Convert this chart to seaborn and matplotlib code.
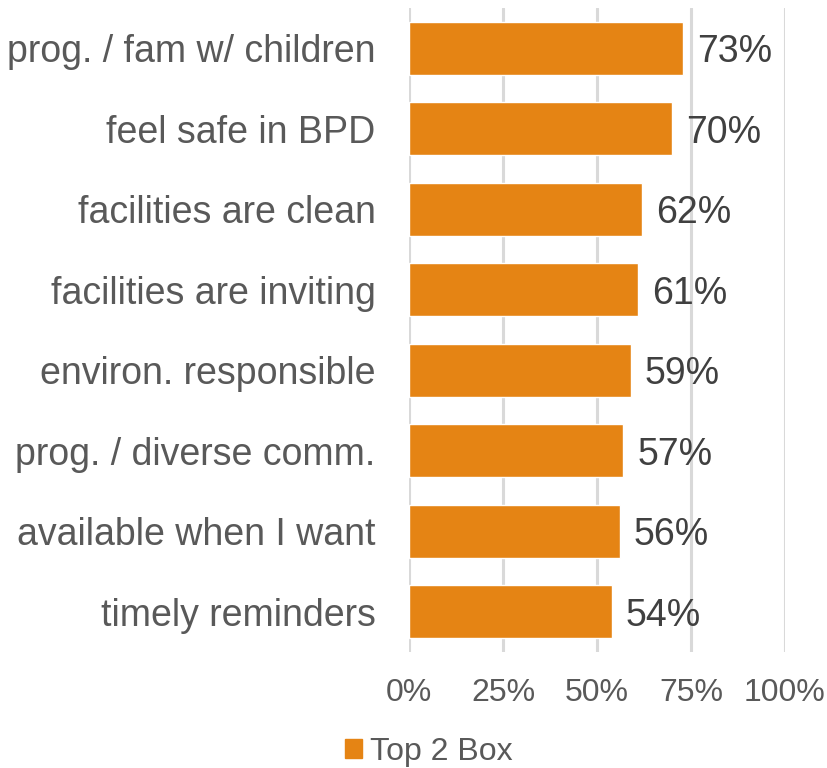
import matplotlib
matplotlib.use("Agg")
import matplotlib.pyplot as plt
import matplotlib.patches as mpatches
import seaborn as sns
import pandas as pd

categories = [
    "prog. / fam w/ children",
    "feel safe in BPD",
    "facilities are clean",
    "facilities are inviting",
    "environ. responsible",
    "prog. / diverse comm.",
    "available when I want",
    "timely reminders",
]
values = [73, 70, 62, 61, 59, 57, 56, 54]
tick_values = [0, 25, 50, 75, 100]
tick_labels = ["0%", "25%", "50%", "75%", "100%"]
series_name = "Top 2 Box"

BAR = "#E58414"
GRID = "#D9D9D9"
TEXT = "#595959"
VALUE_TEXT = "#404040"

sns.set_theme(style="white")
plt.rcParams["font.family"] = ["Liberation Sans", "DejaVu Sans"]

df = pd.DataFrame({"category": categories, "value": values})

fig = plt.figure(figsize=(8.28, 7.68), dpi=100)
ax = fig.add_axes([409 / 828, 1 - 652 / 768, 376 / 828, 644 / 768])

sns.barplot(data=df, x="value", y="category", orient="h", color=BAR,
            width=0.66, saturation=1, ax=ax, zorder=3)

ax.set_xlim(0, 100)
ax.set_ylim(len(categories) - 0.5, -0.5)
ax.set_xticks(tick_values)
ax.set_xticklabels(tick_labels)
ax.set_xlabel("")
ax.set_ylabel("")
for v in tick_values:
    ax.axvline(v, color=GRID, lw=2.2, zorder=1)
for s in ax.spines.values():
    s.set_visible(False)
ax.tick_params(axis="x", length=0, pad=19, labelsize=23, labelcolor=TEXT)
ax.tick_params(axis="y", length=0, pad=24, labelsize=27, labelcolor=TEXT)

for i, v in enumerate(values):
    ax.annotate(f"{v}%", xy=(v, i), xytext=(14, 0), textcoords="offset pixels",
                ha="left", va="center_baseline", fontsize=27, color=VALUE_TEXT)

handle = mpatches.Patch(color=BAR, label=series_name)
fig.legend(handles=[handle], loc="center", bbox_to_anchor=(429 / 828, 1 - 752 / 768),
           frameon=False, fontsize=23, labelcolor=TEXT, handlelength=0.55,
           handleheight=0.55, handletextpad=0.25, borderpad=0)

fig.savefig("out.png", dpi=100)
